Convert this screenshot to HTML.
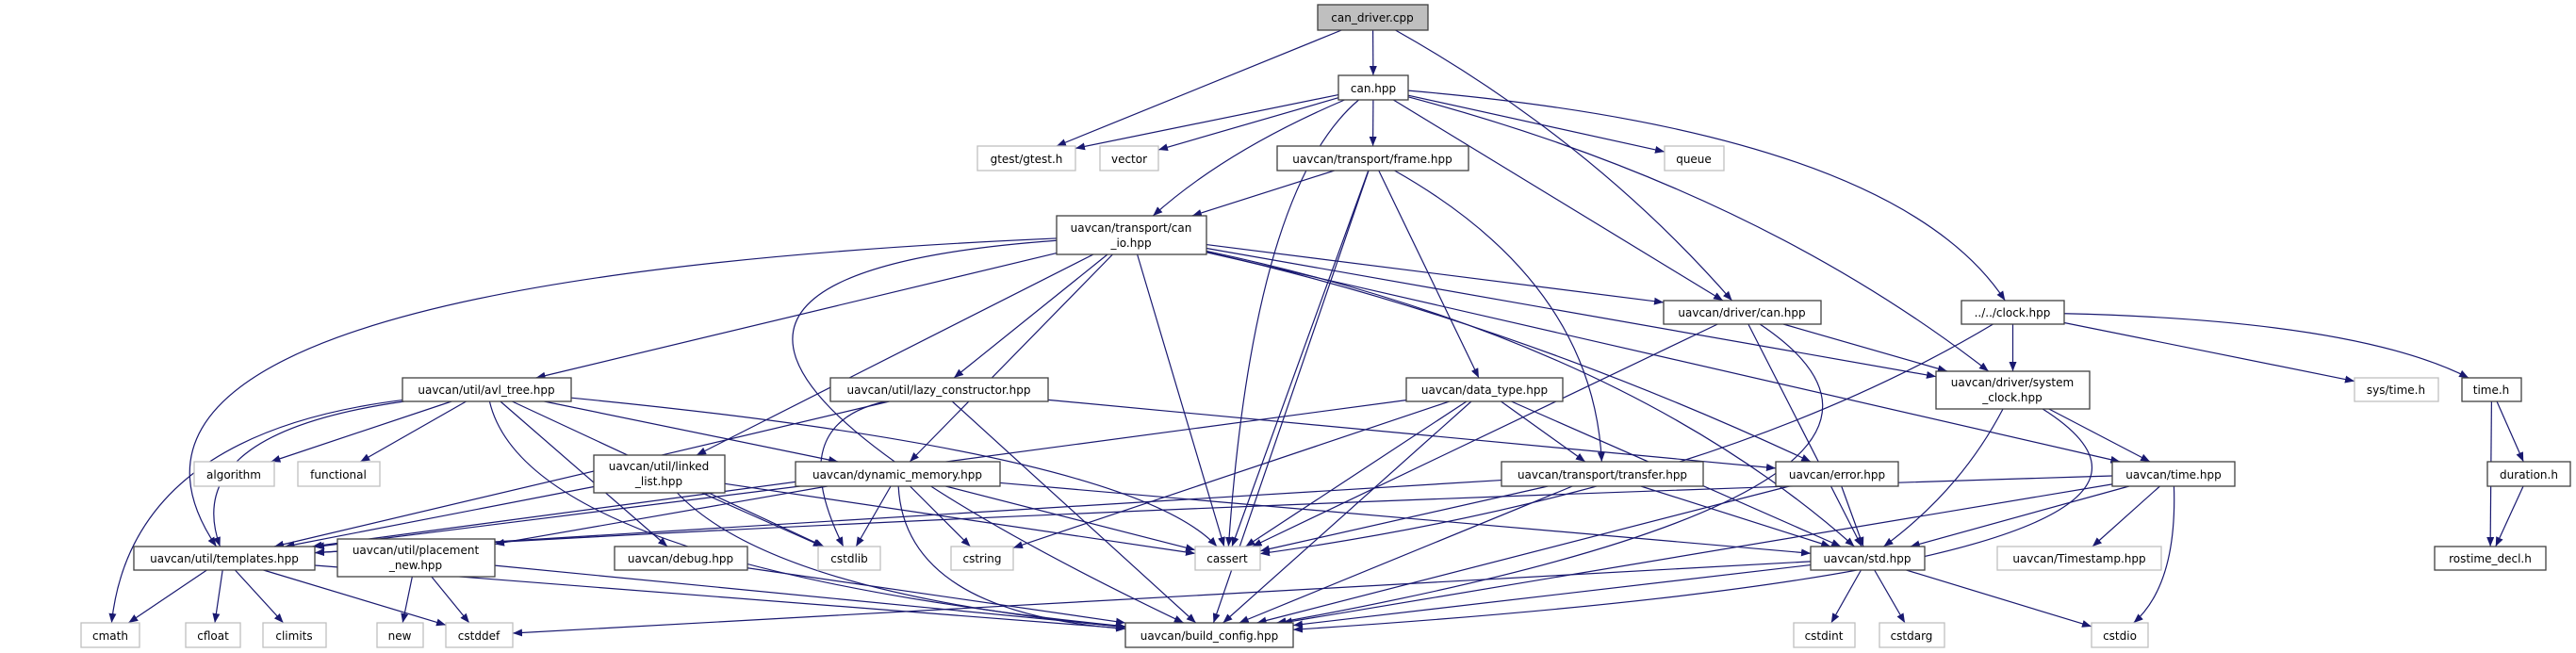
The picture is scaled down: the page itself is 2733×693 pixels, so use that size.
<!DOCTYPE html>
<html><head><meta charset="utf-8"><style>
html,body{margin:0;padding:0;background:#fff;}
svg{display:block;}
text{font-family:"DejaVu Sans","Liberation Sans",sans-serif;font-size:12px;fill:#000;text-anchor:middle;}
.n{fill:#fff;stroke:#404040;stroke-width:1.3;}
.g{fill:#fff;stroke:#bfbfbf;stroke-width:1.3;}
.r{fill:#bfbfbf;stroke:#404040;stroke-width:1.3;}
</style></head><body>
<svg id="s" width="2733" height="693" viewBox="0 0 2733 693" xmlns="http://www.w3.org/2000/svg">
<defs><marker id="a" markerWidth="10" markerHeight="8" refX="10" refY="4" orient="auto" markerUnits="userSpaceOnUse"><path d="M0,0 L10,4 L0,8 z" fill="#191970"/></marker></defs>
<g id="edges" fill="none" stroke="#191970" stroke-width="1.2"></g>
<g id="nodes">
<rect class="r" x="1398" y="5" width="117" height="27"/><text x="1456" y="23">can_driver.cpp</text>
<rect class="n" x="1420" y="80" width="74" height="26"/><text x="1457" y="98">can.hpp</text>
<rect class="g" x="1037" y="155" width="104" height="26"/><text x="1089" y="173">gtest/gtest.h</text>
<rect class="g" x="1167" y="155" width="62" height="26"/><text x="1198" y="173">vector</text>
<rect class="n" x="1355" y="155" width="203" height="26"/><text x="1456" y="173">uavcan/transport/frame.hpp</text>
<rect class="g" x="1766" y="155" width="63" height="26"/><text x="1797" y="173">queue</text>
<rect class="n" x="1121" y="229" width="159" height="41"/><text x="1200" y="246">uavcan/transport/can</text><text x="1200" y="262">_io.hpp</text>
<rect class="n" x="1765" y="319" width="167" height="25"/><text x="1848" y="336">uavcan/driver/can.hpp</text>
<rect class="n" x="2081" y="319" width="109" height="25"/><text x="2135" y="336">../../clock.hpp</text>
<rect class="n" x="427" y="401" width="179" height="25"/><text x="516" y="418">uavcan/util/avl_tree.hpp</text>
<rect class="n" x="881" y="401" width="231" height="25"/><text x="996" y="418">uavcan/util/lazy_constructor.hpp</text>
<rect class="n" x="1492" y="401" width="166" height="25"/><text x="1575" y="418">uavcan/data_type.hpp</text>
<rect class="n" x="2054" y="394" width="163" height="40"/><text x="2135" y="410">uavcan/driver/system</text><text x="2135" y="426">_clock.hpp</text>
<rect class="g" x="2498" y="401" width="89" height="25"/><text x="2542" y="418">sys/time.h</text>
<rect class="n" x="2612" y="401" width="63" height="25"/><text x="2643" y="418">time.h</text>
<rect class="g" x="206" y="490" width="85" height="26"/><text x="248" y="508">algorithm</text>
<rect class="g" x="316" y="490" width="87" height="26"/><text x="359" y="508">functional</text>
<rect class="n" x="630" y="483" width="139" height="40"/><text x="699" y="499">uavcan/util/linked</text><text x="699" y="515">_list.hpp</text>
<rect class="n" x="844" y="490" width="217" height="26"/><text x="952" y="508">uavcan/dynamic_memory.hpp</text>
<rect class="n" x="1593" y="490" width="214" height="26"/><text x="1700" y="508">uavcan/transport/transfer.hpp</text>
<rect class="n" x="1884" y="490" width="130" height="26"/><text x="1949" y="508">uavcan/error.hpp</text>
<rect class="n" x="2241" y="490" width="130" height="26"/><text x="2306" y="508">uavcan/time.hpp</text>
<rect class="n" x="2639" y="490" width="88" height="26"/><text x="2683" y="508">duration.h</text>
<rect class="n" x="142" y="580" width="192" height="25"/><text x="238" y="597">uavcan/util/templates.hpp</text>
<rect class="n" x="358" y="572" width="167" height="40"/><text x="441" y="588">uavcan/util/placement</text><text x="441" y="604">_new.hpp</text>
<rect class="n" x="652" y="580" width="141" height="25"/><text x="722" y="597">uavcan/debug.hpp</text>
<rect class="g" x="868" y="580" width="66" height="25"/><text x="901" y="597">cstdlib</text>
<rect class="g" x="1009" y="580" width="66" height="25"/><text x="1042" y="597">cstring</text>
<rect class="g" x="1268" y="580" width="69" height="25"/><text x="1302" y="597">cassert</text>
<rect class="n" x="1921" y="580" width="121" height="25"/><text x="1981" y="597">uavcan/std.hpp</text>
<rect class="g" x="2119" y="580" width="174" height="25"/><text x="2206" y="597">uavcan/Timestamp.hpp</text>
<rect class="n" x="2583" y="580" width="118" height="25"/><text x="2642" y="597">rostime_decl.h</text>
<rect class="g" x="86" y="661" width="62" height="26"/><text x="117" y="679">cmath</text>
<rect class="g" x="197" y="661" width="58" height="26"/><text x="226" y="679">cfloat</text>
<rect class="g" x="279" y="661" width="67" height="26"/><text x="312" y="679">climits</text>
<rect class="g" x="400" y="661" width="49" height="26"/><text x="424" y="679">new</text>
<rect class="g" x="473" y="661" width="71" height="26"/><text x="508" y="679">cstddef</text>
<rect class="n" x="1194" y="661" width="178" height="26"/><text x="1283" y="679">uavcan/build_config.hpp</text>
<rect class="g" x="1903" y="661" width="65" height="26"/><text x="1935" y="679">cstdint</text>
<rect class="g" x="1994" y="661" width="69" height="26"/><text x="2028" y="679">cstdarg</text>
<rect class="g" x="2219" y="661" width="60" height="26"/><text x="2249" y="679">cstdio</text>
</g>
</svg>
<script>
var B={cd:[1398,5,1515,32],can:[1420,80,1494,106],gtest:[1037,155,1141,181],vector:[1167,155,1229,181],frame:[1355,155,1558,181],queue:[1766,155,1829,181],canio:[1121,229,1280,270],dcan:[1765,319,1932,344],clock:[2081,319,2190,344],avl:[427,401,606,426],lazy:[881,401,1112,426],dtype:[1492,401,1658,426],sysclk:[2054,394,2217,434],systime:[2498,401,2587,426],timeh:[2612,401,2675,426],algo:[206,490,291,516],func:[316,490,403,516],llist:[630,483,769,523],dyn:[844,490,1061,516],transfer:[1593,490,1807,516],error:[1884,490,2014,516],time:[2241,490,2371,516],dur:[2639,490,2727,516],tmpl:[142,580,334,605],pnew:[358,572,525,612],debug:[652,580,793,605],cstdlib:[868,580,934,605],cstring:[1009,580,1075,605],cassert:[1268,580,1337,605],std:[1921,580,2042,605],ts:[2119,580,2293,605],rostime:[2583,580,2701,605],cmath:[86,661,148,687],cfloat:[197,661,255,687],climits:[279,661,346,687],"new":[400,661,449,687],cstddef:[473,661,544,687],bcfg:[1194,661,1372,687],cstdint:[1903,661,1968,687],cstdarg:[1994,661,2063,687],cstdio:[2219,661,2279,687]};
var E=[["cd","gtest"],["cd","can"],["cd","dcan",[1690,150]],
["can","gtest"],["can","vector"],["can","canio",[1300,160]],["can","cassert",[1330,200]],["can","frame"],["can","dcan"],["can","queue"],["can","sysclk",[1860,200]],["can","clock",[2010,140]],
["frame","canio"],["frame","cassert"],["frame","bcfg"],["frame","dtype"],["frame","transfer",[1690,300]],
["canio","tmpl",[40,300]],["canio","avl"],["canio","llist"],["canio","lazy"],["canio","dyn"],["canio","cassert"],["canio","bcfg",[500,300]],["canio","dcan"],["canio","sysclk"],["canio","error",[1600,340]],["canio","std",[1720,360]],["canio","time"],
["clock","sysclk"],["clock","systime"],["clock","timeh",[2500,340]],["clock","cassert",[1820,520]],
["dcan","sysclk"],["dcan","std"],["dcan","cassert"],["dcan","bcfg",[2130,520]],
["sysclk","time"],["sysclk","std",[2080,520]],["sysclk","bcfg",[2430,600]],
["timeh","dur"],["timeh","rostime"],["dur","rostime"],
["avl","algo"],["avl","func"],["avl","tmpl",[190,460]],["avl","dyn"],["avl","cassert",[1200,480]],["avl","debug"],["avl","bcfg",[560,600]],["avl","cstdlib"],["avl","cmath",[140,460]],
["lazy","tmpl"],["lazy","cstdlib",[830,450]],["lazy","bcfg"],["lazy","error"],
["llist","tmpl"],["llist","cstdlib"],["llist","bcfg",[820,630]],["llist","cassert"],
["dyn","tmpl"],["dyn","pnew"],["dyn","cstdlib"],["dyn","cstring"],["dyn","cassert"],["dyn","bcfg",[960,650]],["dyn","std"],
["dtype","tmpl"],["dtype","cstring"],["dtype","cassert"],["dtype","transfer"],["dtype","std"],["dtype","bcfg"],
["transfer","tmpl"],["transfer","cassert"],["transfer","std"],["transfer","bcfg"],
["error","std"],["error","bcfg"],
["time","tmpl",[1100,540]],["time","std"],["time","ts"],["time","cstdio",[2310,620]],["time","bcfg"],
["std","cstddef"],["std","bcfg"],["std","cstdint"],["std","cstdarg"],["std","cstdio"],
["tmpl","cmath"],["tmpl","cfloat"],["tmpl","climits"],["tmpl","cstddef"],["tmpl","bcfg"],
["pnew","new"],["pnew","cstddef"],["pnew","bcfg"],["debug","bcfg"]];
function ctr(b){return[(b[0]+b[2])/2,(b[1]+b[3])/2];}
function clip(b,p){var c=ctr(b),dx=p[0]-c[0],dy=p[1]-c[1],hw=(b[2]-b[0])/2,hh=(b[3]-b[1])/2;var t=Math.min(dx?hw/Math.abs(dx):1e9,dy?hh/Math.abs(dy):1e9);if(t>1)t=1;return[c[0]+dx*t,c[1]+dy*t];}
var g=document.getElementById("edges"),h="";
E.forEach(function(e){var s=B[e[0]],t=B[e[1]],cp=e[2];var sc=ctr(s),tc=ctr(t);var p1=clip(s,cp||tc),p2=clip(t,cp||sc);var d=cp?"M"+p1[0]+","+p1[1]+" Q"+cp[0]+","+cp[1]+" "+p2[0]+","+p2[1]:"M"+p1[0]+","+p1[1]+" L"+p2[0]+","+p2[1];h+='<path d="'+d+'" marker-end="url(#a)"/>';});
g.innerHTML=h;
</script>
</body></html>
